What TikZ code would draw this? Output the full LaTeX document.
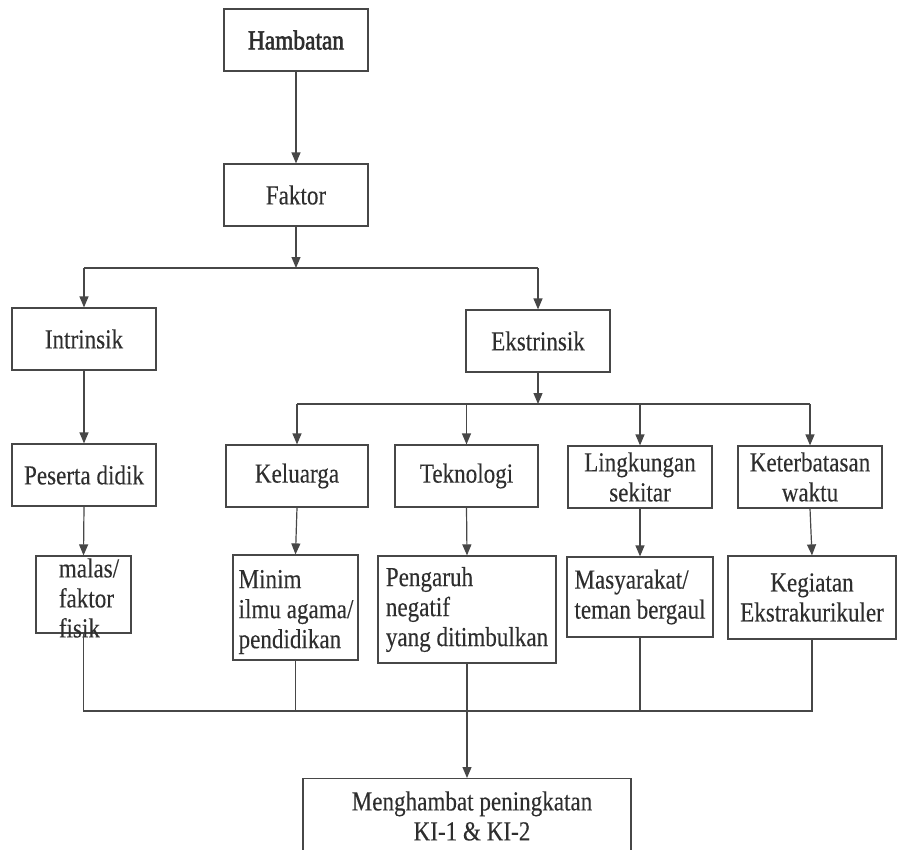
\documentclass[tikz,border=0pt]{standalone}
\usepackage{fontspec}
\setmainfont[FakeStretch=0.84,FakeBold=0.2]{Liberation Serif}
\newfontfamily\hambfont[FakeStretch=0.85,FakeBold=2.2]{Liberation Serif}
\usetikzlibrary{arrows.meta}
\begin{document}
\begin{tikzpicture}[x=1pt,y=-1pt,
  every node/.style={font=\fontsize{27.5}{30}\selectfont, text=black!82},
  box/.style={draw=black!72, line width=1.2pt, inner sep=2pt},
  txt/.style={inner sep=0pt},
  conn/.style={draw=black!72, line width=1.2pt},
  arr/.style={conn, -{Triangle[length=11pt,width=9pt]}}]
\useasboundingbox (0,0) rectangle (897,849);
\clip (0,0) rectangle (897,849);
% first levels
\node[box, minimum width=144pt, minimum height=62pt] (hamb) at (296,40) {\hambfont Hambatan};
\node[box, minimum width=144pt, minimum height=62pt] (faktor) at (296,195) {Faktor};
\node[box, minimum width=144pt, minimum height=62pt] (intr) at (84,339) {Intrinsik};
\node[box, minimum width=144pt, minimum height=62pt] (ekst) at (538,341) {Ekstrinsik};
% second row
\node[box, minimum width=144pt, minimum height=62pt] (pes) at (84,475) {Peserta didik};
\node[box, minimum width=142pt, minimum height=62pt] (kel) at (297,476) {Keluarga};
\node[box, minimum width=143pt, minimum height=62pt] (tek) at (466.5,476) {Teknologi};
\node[box, minimum width=144pt, minimum height=62pt, align=center] (ling) at (640,477) {Lingkungan\\sekitar};
\node[box, minimum width=144pt, minimum height=62pt, align=center] (ket) at (810,477) {Keterbatasan\\waktu};
% third row
\node[box, minimum width=95pt, minimum height=77pt] (malas) at (83.5,594.5) {};
\node[txt, align=left] (malastxt) at (89,598) {malas/\\faktor\\fisik};
\node[box, minimum width=125pt, minimum height=105pt] (minim) at (295.5,607.5) {};
\node[txt, align=left] (minimtxt) at (296,612) {Minim\\ilmu agama/\\pendidikan};
\node[box, minimum width=178pt, minimum height=107pt, align=left] (peng) at (467,609.5) {Pengaruh\\negatif\\yang ditimbulkan};
\node[box, minimum width=146pt, minimum height=80pt, align=left] (masy) at (640,597) {Masyarakat/\\teman bergaul};
\node[box, minimum width=168pt, minimum height=83pt, align=center] (keg) at (812,597.5) {Kegiatan\\Ekstrakurikuler};
% final
\node[box, minimum width=328pt, minimum height=100pt, anchor=north] (meng) at (467,778) {};
\node[txt, align=center] (mengtxt) at (472,816) {Menghambat peningkatan\\KI-1 \& KI-2};
% junctions
\coordinate (j1) at (296,268);
\coordinate (jl) at (84,268);
\coordinate (jr) at (538,268);
\coordinate (j2) at (538,404);
\coordinate (k1) at (297,404);
\coordinate (k2) at (466.5,404);
\coordinate (k3) at (640,404);
\coordinate (k4) at (810,404);
\coordinate (b1) at (83.5,711);
\coordinate (b2) at (812,711);
% connectors
\draw[arr] (hamb.south) -- (faktor.north);
\draw[arr] (faktor.south) -- (j1);
\draw[conn] (jl) -- (jr);
\draw[arr] (jl) -- (intr.north);
\draw[arr] (jr) -- (ekst.north);
\draw[arr] (intr.south) -- (pes.north);
\draw[arr] (ekst.south) -- (j2);
\draw[conn] (k1) -- (k4);
\draw[arr] (k1) -- (kel.north);
\draw[arr] (k2) -- (tek.north);
\draw[arr] (k3) -- (ling.north);
\draw[arr] (k4) -- (ket.north);
\draw[arr] (pes.south) -- (malas.north);
\draw[arr] (kel.south) -- (minim.north);
\draw[arr] (tek.south) -- (peng.north);
\draw[arr] (ling.south) -- (masy.north);
\draw[arr] (ket.south) -- (keg.north);
\draw[conn] (malas.south) -- (b1) -- (b2) -- (keg.south);
\draw[conn] (minim.south) -- (minim.south |- b1);
\draw[conn] (masy.south) -- (masy.south |- b1);
\draw[arr] (peng.south) -- (meng.north);
\end{tikzpicture}
\end{document}
